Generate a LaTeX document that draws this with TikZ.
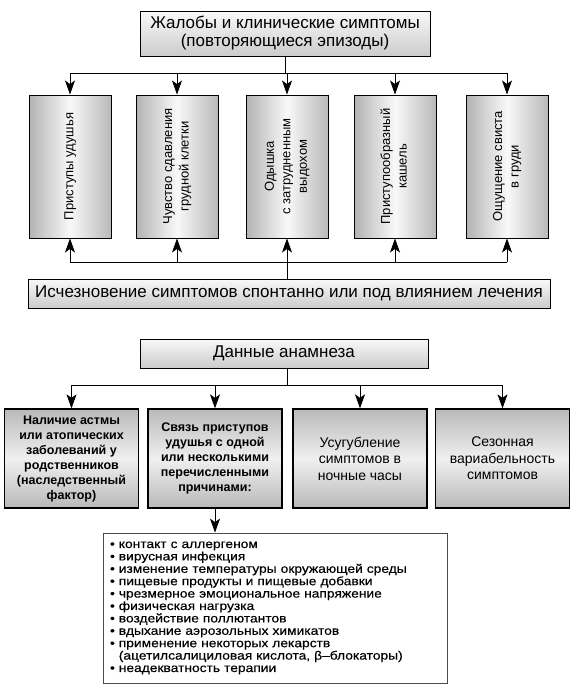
\documentclass[tikz,border=0pt]{standalone}
\usepackage{fontspec}
\setmainfont{Liberation Sans}
\newfontfamily\listfont[FakeStretch=1.15,FakeBold=0.4]{Liberation Sans}
\usetikzlibrary{arrows.meta}
\newcommand{\fs}[2]{\fontsize{#1}{#2}\selectfont}
\newcommand{\vtext}[1]{\rotatebox{90}{\begin{tabular}{@{}c@{}}#1\end{tabular}}}

\begin{document}
\begin{tikzpicture}[x=1pt, y=-1pt, line width=0.8pt,
		arr/.style={-{Stealth[length=14pt,width=10pt,inset=3.5pt]}},
		headbox/.style={draw, line width=1pt, top color=gray!5, bottom color=gray!40,
			align=center, inner sep=0pt, font=\fs{17}{18}},
		symbox/.style={draw, line width=1pt, minimum width=82pt, minimum height=143pt,
			left color=gray!60, right color=gray!55, middle color=gray!5,
			inner sep=0pt, font=\fs{13}{16.5}},
		histbox/.style={draw, line width=1.3pt, minimum width=134pt, minimum height=99pt,
			top color=gray!55, bottom color=gray!55, middle color=gray!12,
			align=center, inner sep=0pt},
		listbox/.style={draw=gray!60!black, line width=0.8pt, minimum height=150pt,
			text width=330pt, inner xsep=7pt, align=left,
			font={\listfont\fontsize{12}{12.4}\selectfont}}
	]
	\useasboundingbox (0,0) rectangle (576,691);

	% complaints
	\node [headbox, minimum width=290pt, minimum height=45pt] (compl) at (285,33.5)
		{Жалобы и клинические симптомы\\(повторяющиеся эпизоды)};

	\node [symbox] (s1) at (70,166.5) {\vtext{Приступы удушья}};
	\node [symbox] (s2) at (177,166.5) {\vtext{Чувство сдавления\\грудной клетки}};
	\node [symbox] (s3) at (287,166.5) {\vtext{Одышка\\с затрудненным\\выдохом}};
	\node [symbox] (s4) at (395,166.5) {\vtext{Приступообразный\\кашель}};
	\node [symbox] (s5) at (507,166.5) {\vtext{Ощущение свиста\\в груди}};

	\node [headbox, minimum width=522pt, minimum height=29pt] (relief) at (289,293.5)
		{Исчезновение симптомов спонтанно или под влиянием лечения};

	\coordinate (tbus) at (287,73);
	\coordinate (bbus) at (287,262);

	\draw (compl.south) -- (compl.south |- tbus);
	\draw (s1.north |- tbus) -- (s5.north |- tbus);
	\draw (s1.south |- bbus) -- (s5.south |- bbus);
	\draw (s3.south |- bbus) -- (s3.south |- relief.north);
	\foreach \i in {1,...,5} {
		\draw [arr] (s\i.north |- tbus) -- (s\i.north);
		\draw [arr] (s\i.south |- bbus) -- (s\i.south);
	}

	% history
	\node [headbox, minimum width=288pt, minimum height=29pt] (hist) at (284,353.5) {Данные анамнеза};

	\node [histbox, font=\bfseries\fs{12.5}{15}] (h1) at (71.5,458.5)
		{Наличие астмы\\или атопических\\заболеваний у\\родственников\\(наследственный\\фактор)};
	\node [histbox, font=\bfseries\fs{12.5}{15}] (h2) at (215,458.5)
		{Связь приступов\\удушья с одной\\или несколькими\\перечисленными\\причинами:};
	\node [histbox, font=\fs{14}{16.5}] (h3) at (360,458.5)
		{Усугубление\\симптомов в\\ночные часы};
	\node [histbox, font=\fs{14}{16.5}] (h4) at (502.5,458.5)
		{Сезонная\\вариабельность\\симптомов};

	\coordinate (hbus) at (287,385);
	\draw (hist.south -| hbus) -- (hbus);
	\draw (h1.north |- hbus) -- (h4.north |- hbus);
	\foreach \i in {1,...,4}
		\draw [arr] (h\i.north |- hbus) -- (h\i.north);

	\node [listbox] (causes) at (275,608) {%
		\textbullet\ контакт с аллергеном\\
		\textbullet\ вирусная инфекция\\
		\textbullet\ изменение температуры окружающей среды\\
		\textbullet\ пищевые продукты и пищевые добавки\\
		\textbullet\ чрезмерное эмоциональное напряжение\\
		\textbullet\ физическая нагрузка\\
		\textbullet\ воздействие поллютантов\\
		\textbullet\ вдыхание аэрозольных химикатов\\
		\textbullet\ применение некоторых лекарств\\
		\phantom{\textbullet\ }(ацетилсалициловая кислота, β–блокаторы)\\
		\textbullet\ неадекватность терапии};

	\draw [arr] (h2.south) -- (h2.south |- causes.north);

\end{tikzpicture}
\end{document}
